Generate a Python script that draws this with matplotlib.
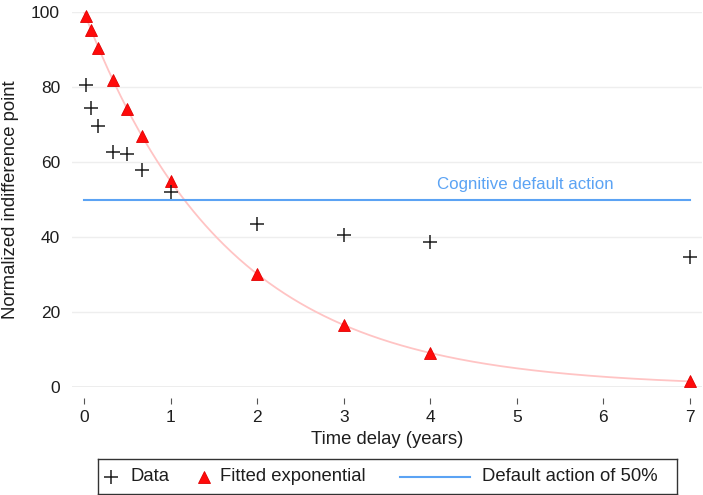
import numpy as np
import matplotlib
matplotlib.use("Agg")
import matplotlib.pyplot as plt

plt.rcParams['font.family'] = ['Liberation Sans', 'DejaVu Sans']

# Delays (years) and normalized indifference points
delay_years = [1 / 52, 1 / 12, 2 / 12, 4 / 12, 6 / 12, 8 / 12, 1, 2, 3, 4, 7]
observed = [80.5, 74.5, 69.6, 62.8, 62.1, 58.0, 51.9, 43.6, 40.5, 38.8, 34.6]
fitted = [98.9, 95.1, 90.5, 81.9, 74.1, 67.0, 54.9, 30.1, 16.5, 9.1, 1.5]
default_level = 50
x_ticks = [0, 1, 2, 3, 4, 5, 6, 7]
y_ticks = [0, 20, 40, 60, 80, 100]

RED = '#ff0a0a'
PINK = '#ffc4c4'
BLUE = '#5ba3f4'
INK = '#1e1e1e'

# smooth exponential through the fitted values
rate, log_amp = np.polyfit(delay_years, np.log(fitted), 1)
t_curve = np.linspace(0, max(delay_years), 400)
curve = np.exp(log_amp + rate * t_curve)

W, H = 703, 495
fig = plt.figure(figsize=(W / 100, H / 100), dpi=100)
ax = fig.add_axes([72 / W, 1 - 387 / H, 630 / W, 375 / H])

ax.set_xlim(-0.139, 7.139)
ax.set_ylim(0, 100)
ax.set_xticks(x_ticks)
ax.set_yticks(y_ticks)
ax.set_axisbelow(True)
ax.grid(axis='y', color='#eeeeee', lw=1.0)
ax.grid(axis='x', visible=False)
ax.axhline(0, color='#b5b5b5', lw=1.0, zorder=1)

for side in ('top', 'right', 'left'):
    ax.spines[side].set_visible(False)
ax.spines['bottom'].set_position(('outward', 8.0))
ax.spines['bottom'].set_visible(False)

ax.tick_params(axis='x', direction='out', length=4.6, width=0.8, color='#555555',
               pad=3.8, labelsize=12.5, labelcolor=INK)
ax.tick_params(axis='y', length=0, pad=8.6, labelsize=12.5, labelcolor=INK)

ax.plot(t_curve, curve, color=PINK, lw=1.3, zorder=2)
ax.plot([0, max(delay_years)], [default_level, default_level], color=BLUE, lw=1.5, zorder=3)
ax.plot(delay_years, fitted, linestyle='none', marker='^', markersize=8.2,
        color=RED, markeredgewidth=0.6, markeredgecolor='#e00000', zorder=4, clip_on=False)
ax.plot(delay_years, observed, linestyle='none', marker='+', markersize=9.5,
        markeredgewidth=1.1, color=INK, zorder=5, clip_on=False)

ax.text(5.1, 53.9, 'Cognitive default action', color=BLUE, fontsize=12.2,
        ha='center', va='center')

fig.text(11 / W, 1 - 200 / H, 'Normalized indifference point', rotation=90,
         ha='center', va='center', fontsize=13.3, color=INK)
fig.text(387 / W, 1 - 439 / H, 'Time delay (years)', ha='center', va='center',
         fontsize=13.3, color=INK)

# legend box laid out in pixel units
lax = fig.add_axes([98 / W, 1 - 494 / H, 579 / W, 35 / H])
lax.set_xlim(0, 579)
lax.set_ylim(0, 35)
lax.set_xticks([])
lax.set_yticks([])
for sp in lax.spines.values():
    sp.set_linewidth(1.0)
    sp.set_color('#333333')
ymid = 17.5
lax.plot([13], [ymid], linestyle='none', marker='+', markersize=9.5,
         markeredgewidth=1.1, color=INK)
lax.text(32, ymid, 'Data', fontsize=13.3, va='center', ha='left', color=INK)
lax.plot([105.5], [ymid], linestyle='none', marker='^', markersize=8.2,
         color=RED, markeredgewidth=0.6, markeredgecolor='#e00000')
lax.text(122, ymid, 'Fitted exponential', fontsize=13.3, va='center', ha='left', color=INK)
lax.plot([302, 372], [ymid, ymid], color=BLUE, lw=1.5)
lax.text(384, ymid, 'Default action of 50%', fontsize=13.3, va='center', ha='left', color=INK)

fig.savefig('out.png', dpi=100)
